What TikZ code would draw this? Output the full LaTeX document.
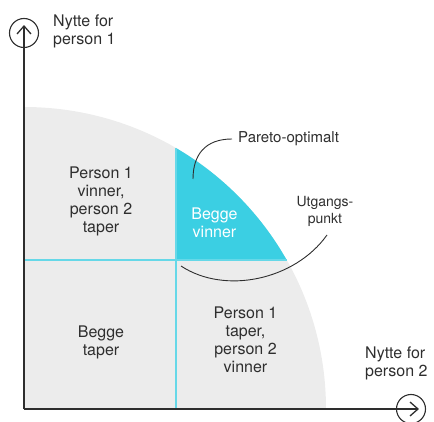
\documentclass[tikz,border=0pt]{standalone}
\usepackage{fontspec}
\setmainfont{TeX Gyre Heros}
\definecolor{txt}{HTML}{2E2E2E}
\definecolor{zone}{HTML}{ECECEC}
\definecolor{cyanf}{HTML}{3BCFE3}
\definecolor{cyanl}{HTML}{66D8E8}
\begin{document}
\begin{tikzpicture}[x=1pt,y=-1pt,
  lbl/.style={text=txt,font=\fontsize{16}{18}\selectfont,align=center,inner sep=0pt},
  small/.style={text=txt,font=\fontsize{14}{17.5}\selectfont,align=center,inner sep=0pt},
  axisline/.style={draw=txt,line width=1.3pt},
  leader/.style={draw=txt,line width=0.9pt},
  divline/.style={draw=cyanl,line width=1.6pt}]
\useasboundingbox (0,0) rectangle (434,422);
% gray quarter disc
\fill[zone] (24,409) -- (24,107) arc[start angle=-90,end angle=0,radius=302] -- cycle;
% cyan region
\fill[cyanf] (176,260) -- (176,148) arc[start angle={-acos(152/302)},end angle={-asin(149/302)},radius=302] -- cycle;
% dividers
\coordinate (vtop) at (176,148);
\coordinate (vbot) at (176,409);
\coordinate (hl) at (24,260);
\coordinate (hr) at (287,260);
\draw[divline] (vtop) -- (vbot);
\draw[divline] (hl) -- (hr);
% axes
\coordinate (o) at (24,409);
\node[circle,draw=txt,line width=1.1pt,minimum size=29pt,inner sep=0pt] (yc) at (24,33) {};
\node[circle,draw=txt,line width=1.1pt,minimum size=29pt,inner sep=0pt] (xc) at (411,409) {};
\coordinate (ytip) at (24,26);
\coordinate (xtip) at (418,409);
\draw[axisline] (o) -- (ytip);
\draw[axisline] (o) -- (xtip);
\draw[axisline,line join=miter] (17,34) -- (ytip) -- (31,34);
\draw[axisline,line join=miter] (410,402) -- (xtip) -- (410,416);
% labels
\node[lbl,align=left,anchor=north west] (ylab) at (53,15) {Nytte for\\person 1};
\node[lbl,align=left,anchor=north west] (xlab) at (365,347) {Nytte for\\person 2};
\node[lbl] (q1) at (101,201) {Person 1\\vinner,\\person 2\\taper};
\node[lbl,text=white] (q2) at (214.5,223) {Begge\\vinner};
\node[lbl] (q3) at (101,342) {Begge\\taper};
\node[lbl] (q4) at (245.5,340) {Person 1\\taper,\\person 2\\vinner};
\node[text=txt,font=\fontsize{15}{18}\selectfont,inner ysep=0pt,inner xsep=6pt,anchor=west] (par) at (232,139) {Pareto-optimalt};
\node[small] (utg) at (325,211.5) {Utgangs-\\punkt};
% leaders
\coordinate (pstart) at (193,179);
\coordinate (ustart) at (181,266);
\coordinate (uend) at (327,235);
\draw[leader] (pstart) .. controls (193,155) and (205,139) .. (par.west);
\draw[leader] (ustart) .. controls (225,295) and (295,280) .. (uend);
\end{tikzpicture}
\end{document}
